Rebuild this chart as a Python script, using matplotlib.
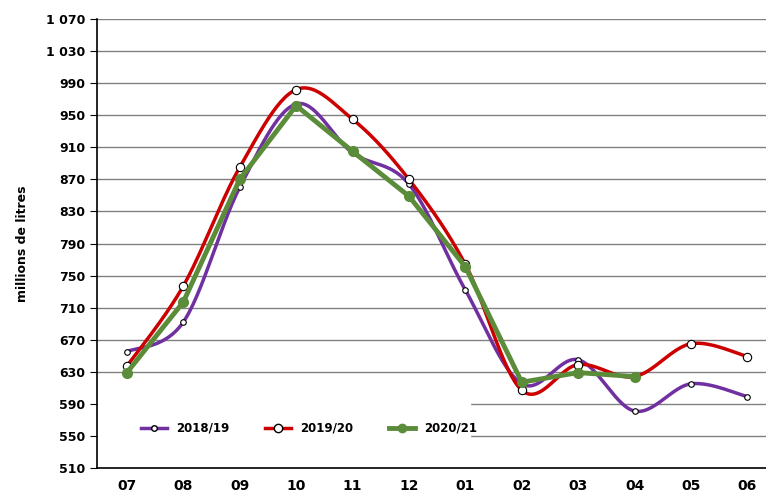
import numpy as np
import matplotlib
matplotlib.use("Agg")
import matplotlib.pyplot as plt

months = ["07","08","09","10","11","12","01","02","03","04","05","06"]
s1819 = [655, 692, 860, 964, 903, 864, 732, 615, 645, 581, 615, 599]
s1920 = [637, 737, 885, 982, 945, 870, 764, 607, 639, 624, 665, 649]
s2021 = [629, 717, 870, 962, 905, 849, 761, 617, 629, 624]
yticks = list(range(510, 1071, 40))

def smooth(x, y, n=30):
    x = np.asarray(x, float); y = np.asarray(y, float)
    px = np.concatenate([[x[0]], x, [x[-1]]]); py = np.concatenate([[y[0]], y, [y[-1]]])
    ox, oy = [], []
    t = np.linspace(0, 1, n)
    for i in range(1, len(px) - 2):
        p0, p1, p2, p3 = [np.array([px[j], py[j]]) for j in (i-1, i, i+1, i+2)]
        c1 = p1 + (p2 - p0) / 6
        c2 = p2 - (p3 - p1) / 6
        b = ((1-t)**3)[:, None]*p1 + (3*(1-t)**2*t)[:, None]*c1 + (3*(1-t)*t**2)[:, None]*c2 + (t**3)[:, None]*p2
        ox.extend(b[:, 0]); oy.extend(b[:, 1])
    return ox, oy

fig = plt.figure(figsize=(7.66, 4.95), dpi=100)
ax = fig.add_axes([97/766, 1-468/495, 669/766, 449/495])
x = np.arange(len(months))
for v in yticks[1:]:
    ax.axhline(v, color="#808080", lw=1, zorder=1)
ax.add_patch(plt.Rectangle((0.0, 0.0), (470-97)/669, (468-380)/449, transform=ax.transAxes,
                           color="white", zorder=1.5))

sx, sy = smooth(x, s1819)
ax.plot(sx, sy, color="#7030A0", lw=2.5, zorder=3)
ax.plot(x, s1819, ls="none", marker="o", ms=4, mfc="white", mec="black", mew=0.8, zorder=4)
sx, sy = smooth(x, s1920)
ax.plot(sx, sy, color="#CC0000", lw=2.5, zorder=3)
ax.plot(x, s1920, ls="none", marker="o", ms=6, mfc="white", mec="black", mew=0.8, zorder=4)
ax.plot(x[:len(s2021)], s2021, color="#5B8C3A", lw=3.5, marker="o", ms=7, mfc="#5B8C3A", mec="#5B8C3A", zorder=5)

from matplotlib.lines import Line2D
h = [Line2D([], [], color="#7030A0", lw=2.5, marker="o", ms=4, mfc="white", mec="black"),
     Line2D([], [], color="#CC0000", lw=2.5, marker="o", ms=6, mfc="white", mec="black"),
     Line2D([], [], color="#5B8C3A", lw=3.5, marker="o", ms=6, mfc="#5B8C3A", mec="#5B8C3A")]
ax.legend(h, ["2018/19", "2019/20", "2020/21"], ncol=3, loc="lower left", bbox_to_anchor=(0.05, 0.05),
          frameon=False, prop={"weight": "bold", "size": 8.5}, handlelength=2.2, columnspacing=3)

ax.set_xlim(-0.53, 11.33)
ax.set_ylim(510, 1070)
ax.set_xticks(x)
ax.set_xticklabels(months, fontweight="bold", fontsize=10)
ax.set_yticks(yticks)
ax.set_yticklabels([f"{v:,}".replace(",", " ") for v in yticks], fontweight="bold", fontsize=9)
for s in ("top", "right"):
    ax.spines[s].set_visible(False)
ax.spines["left"].set_linewidth(1.2)
ax.spines["bottom"].set_linewidth(1.2)
ax.tick_params(axis="x", length=0, pad=8)
ax.tick_params(axis="y", length=5, direction="out")
ax.set_ylabel("millions de litres", fontweight="bold", fontsize=9, labelpad=12)
fig.savefig("out.png", dpi=100)
